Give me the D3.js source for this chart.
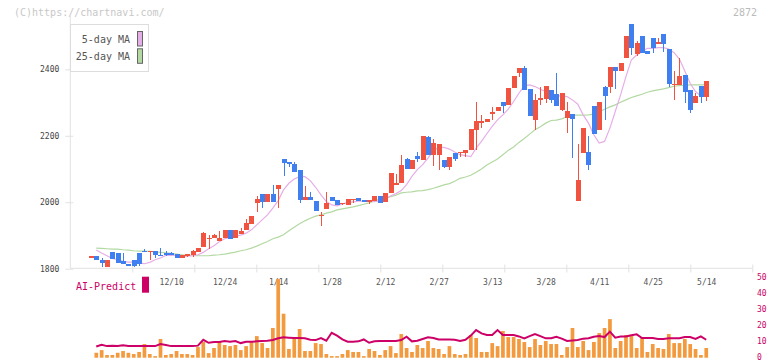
<!DOCTYPE html>
<html><head><meta charset="utf-8">
<script src="https://cdn.jsdelivr.net/npm/d3@7"></script>
<style>body{margin:0;background:#fff}svg{display:block}text{font-family:"DejaVu Sans Mono",monospace}</style>
</head><body><svg id="c" width="772" height="361"></svg>
<script>
const dates = ["11/19","11/20","11/21","11/22","11/25","11/26","11/27","11/28","11/29",
"12/2","12/3","12/4","12/5","12/6","12/9","12/10","12/11","12/12","12/13","12/16","12/17","12/18","12/19","12/20","12/23","12/24","12/25","12/26","12/27","12/30",
"1/6","1/7","1/8","1/9","1/10","1/14","1/15","1/16","1/17","1/20","1/21","1/22","1/23","1/24","1/27","1/28","1/29","1/30","1/31",
"2/3","2/4","2/5","2/6","2/7","2/10","2/12","2/13","2/14","2/17","2/18","2/19","2/20","2/21","2/25","2/26","2/27","2/28",
"3/3","3/4","3/5","3/6","3/7","3/10","3/11","3/12","3/13","3/14","3/17","3/18","3/19","3/21","3/24","3/25","3/26","3/27","3/28","3/31",
"4/1","4/2","4/3","4/4","4/7","4/8","4/9","4/10","4/11","4/14","4/15","4/16","4/17","4/18","4/21","4/22","4/23","4/24","4/25","4/28","4/30",
"5/1","5/2","5/7","5/8","5/9","5/12","5/13","5/14"];
const open = [1837,1839,1827,1806,1851,1848,1824,1815,1827,1848,
1854,1850,1854,1842,1846,1846,1843,1831,1838,1842,
1851,1866,1888,1893,1884,1893,1917,1893,1905,1917,
1935,1998,2025,2001,2025,2040,2130,2121,2115,2097,
2007,2016,2004,1962,1980,2016,2007,1995,1992,2007,
2013,2007,2001,2004,2019,2001,2028,2051,2057,2131,
2099,2140,2128,2197,2143,2143,2128,2107,2149,2149,
2149,2158,2218,2239,2242,2267,2275,2302,2293,2344,
2389,2404,2341,2248,2308,2311,2338,2326,2278,2254,
2266,2003,2149,2152,2290,2218,2347,2347,2407,2395,
2434,2536,2446,2500,2455,2494,2476,2506,2461,2353,
2353,2383,2338,2299,2350,2317];
const high = [1837,1839,1831,1827,1851,1848,1846,1815,1827,1848,
1860,1854,1854,1863,1854,1851,1843,1842,1844,1857,
1863,1911,1902,1904,1914,1917,1917,1917,1923,1950,
1959,2019,2025,2025,2052,2052,2130,2121,2121,2097,
2049,2031,2004,1971,2031,2016,2007,1999,2010,2010,
2013,2007,2007,2019,2019,2028,2088,2086,2143,2134,
2128,2152,2200,2200,2191,2176,2128,2137,2149,2152,
2158,2221,2302,2263,2251,2287,2287,2302,2344,2380,
2404,2410,2341,2326,2347,2350,2338,2389,2329,2302,
2266,2176,2224,2200,2290,2302,2350,2407,2407,2419,
2500,2536,2485,2500,2455,2494,2494,2506,2461,2395,
2434,2383,2338,2329,2350,2365];
const low = [1837,1827,1806,1806,1828,1818,1813,1809,1805,1809,
1849,1827,1831,1839,1839,1841,1831,1831,1835,1836,
1851,1866,1860,1893,1884,1893,1890,1893,1905,1917,
1935,1971,1983,2001,2001,1983,2079,2107,2091,1998,
2007,2007,1974,1929,1980,2004,1992,1992,1992,1998,
2004,2001,1995,2004,1998,2001,2028,2051,2057,2099,
2099,2122,2128,2143,2110,2098,2104,2098,2125,2137,
2137,2158,2158,2224,2242,2248,2275,2269,2293,2344,
2377,2338,2260,2218,2293,2299,2299,2290,2275,2209,
2134,2003,2149,2098,2206,2218,2248,2329,2341,2395,
2434,2443,2440,2449,2446,2449,2476,2452,2347,2308,
2353,2299,2269,2299,2299,2305];
const close = [1837,1827,1816,1827,1828,1818,1813,1809,1809,1815,
1849,1854,1840,1839,1841,1841,1831,1842,1844,1854,
1863,1908,1893,1902,1893,1917,1890,1917,1914,1938,
1959,2010,2001,2025,2001,2052,2118,2115,2091,2007,
2016,2007,1974,1962,1998,2004,1992,1998,2010,2010,
2004,2001,2007,2019,1998,2028,2088,2059,2113,2099,
2128,2131,2200,2143,2179,2176,2107,2137,2131,2152,
2158,2221,2245,2245,2251,2272,2287,2290,2344,2380,
2404,2338,2260,2308,2314,2350,2308,2290,2329,2275,
2251,2068,2224,2113,2206,2302,2320,2407,2395,2419,
2500,2464,2479,2449,2446,2464,2482,2476,2356,2356,
2380,2332,2278,2320,2317,2365];
const ma5 = [null,1856,1847,1839,1831,1827,1822,1820,1820,1817,
1815,1819,1827,1832,1840,1841,1840,1838,1838,1839,
1842,1849,1860,1869,1881,1890,1894,1898,1901,1907,
1917,1932,1947,1962,1982,2005,2037,2057,2070,2077,
2077,2065,2045,2022,2002,1992,1989,1995,1999,2001,
2003,2003,2003,2002,2004,2009,2019,2026,2035,2053,
2078,2098,2113,2133,2156,2165,2165,2160,2151,2143,
2140,2137,2163,2183,2206,2228,2248,2263,2280,2303,
2328,2350,2353,2348,2340,2333,2325,2321,2319,2318,
2308,2295,2263,2238,2203,2178,2183,2223,2273,2323,
2378,2428,2443,2453,2463,2463,2465,2465,2461,2450,
2431,2395,2358,2333,2320,2322];
const ma25 = [null,1862,1861,1860,1859,1859,1857,1856,1854,1853,
1853,1852,1851,1849,1848,1846,1844,1842,1840,1839,
1839,1839,1839,1841,1842,1844,1847,1850,1854,1857,
1862,1868,1875,1882,1890,1895,1902,1914,1925,1935,
1944,1952,1958,1962,1967,1971,1977,1980,1983,1986,
1990,1994,1998,2004,2009,2014,2017,2021,2028,2030,
2031,2034,2035,2038,2042,2047,2052,2056,2063,2072,
2076,2081,2090,2100,2112,2121,2130,2143,2156,2166,
2180,2192,2205,2218,2227,2238,2246,2247,2251,2258,
2262,2262,2262,2263,2265,2272,2280,2287,2293,2301,
2308,2315,2320,2325,2331,2335,2338,2341,2345,2349,
2351,2352,2353,2353,2353,2354];
const volume = [null,3.1,4.8,1.7,1.7,3.1,4.2,3.1,2.3,3.6,
8.6,2.3,1.0,11.8,1.7,2.3,4.2,2.3,2.3,1.7,
6.7,9.9,2.9,6.1,10.5,8.0,7.3,8.0,4.8,7.3,
9.9,13.6,9.2,6.1,18.7,49.5,27.7,5.5,11.8,18.1,
4.2,4.2,9.2,8.6,2.3,1.0,1.0,2.3,4.8,3.6,
3.6,1.0,5.5,4.2,1.7,4.8,7.3,2.9,14.9,6.1,
3.6,8.0,6.1,10.5,6.1,5.5,2.3,7.3,2.3,1.7,
2.3,14.3,12.4,3.6,3.6,9.2,7.3,16.8,13.0,13.0,
11.8,9.9,6.7,11.8,8.0,10.5,8.6,8.6,1.7,6.7,
18.7,6.7,10.5,4.8,9.9,15.5,18.7,24.3,6.1,10.5,
14.3,14.3,6.1,13.0,3.6,8.6,6.1,5.5,14.9,9.2,
9.2,11.8,8.6,5.5,1.7,6.1];
const aiPredict = [null,7.1,8.2,7.3,7.6,7.3,7.8,7.3,7.3,7.3,
7.3,7.3,7.3,8.6,8.0,7.3,7.3,7.3,7.3,7.3,
7.6,11.3,9.4,9.9,9.9,10.5,10.1,10.5,9.2,10.1,
10.1,10.3,10.5,10.7,11.1,12.2,12.8,12.6,12.4,12.4,
12.2,11.3,11.1,12.4,10.7,15.7,13.9,11.5,10.1,10.1,
10.3,11.5,9.4,10.3,10.5,10.5,10.5,10.5,11.1,13.2,
10.3,10.7,11.8,12.8,12.4,11.5,11.5,11.5,11.3,10.5,
11.3,13.9,17.4,15.3,14.3,14.3,17.4,14.3,14.3,14.3,
13.4,12.2,13.6,14.9,13.6,12.2,12.2,13.2,12.0,10.5,
10.9,11.1,12.0,12.2,13.2,13.6,13.0,16.4,12.6,13.4,
13.4,14.1,14.7,12.4,12.4,12.4,11.8,11.8,12.2,12.2,
12.2,13.0,13.0,11.8,13.4,11.3];
const xTickLabels = ["12/10","12/24","1/14","1/28","2/12","2/27","3/13","3/28","4/11","4/25","5/14"];
const priceTicks = [1800,2000,2200,2400];
const volTicks = [0,10,20,30,40,50];
const legendNames = ["5-day MA","25-day MA"];

const C = {red:"#f0533f", blue:"#3f7fef", ma5:"#e6aee6", ma25:"#b2d9a2", vol:"#f39a3e", ai:"#cc0066", axis:"#e2e2e2", text:"#555"};
const svg = d3.select("#c");
svg.append("rect").attr("width",772).attr("height",361).attr("fill","#fff");

const x = d3.scalePoint().domain(dates).range([90.9, 706.2]);
const y = d3.scaleLinear().domain([1800,2400]).range([268.7,69.3]);
const yv = d3.scaleLinear().domain([0,50]).range([357.7,278.3]);
const gx = d3.scaleLinear().domain([0,11]).range([70.3,752.3]);

// copyright & code
svg.append("text").attr("x",14).attr("y",16).attr("font-size",10).attr("fill","#c8c8c8").text("(C)https://chartnavi.com/");
svg.append("text").attr("x",757).attr("y",16).attr("font-size",10).attr("fill","#bbb").attr("text-anchor","end").text("2872");

// axis lines
svg.append("line").attr("x1",70.3).attr("x2",70.3).attr("y1",15).attr("y2",268.3).attr("stroke",C.axis);
svg.append("line").attr("x1",70.3).attr("x2",752.3).attr("y1",268.3).attr("y2",268.3).attr("stroke",C.axis);

// y axis
const ya = svg.append("g").attr("transform","translate(73.3,0)")
  .call(d3.axisLeft(y).tickValues(priceTicks).tickSize(8).tickPadding(6).tickFormat(d3.format("d")));
ya.select(".domain").remove();
ya.selectAll("line").attr("stroke",C.axis);
ya.selectAll("text").attr("font-size",8).attr("fill","#444").attr("font-family","DejaVu Sans Mono");

// x grid ticks
const gxa = svg.append("g").attr("transform","translate(0,264.5)")
  .call(d3.axisBottom(gx).tickValues(d3.range(1,12)).tickSize(8).tickFormat(""));
gxa.select(".domain").remove();
gxa.selectAll("line").attr("stroke",C.axis);

// x labels
const xa = svg.append("g").attr("transform","translate(0,268.3)")
  .call(d3.axisBottom(x).tickValues(xTickLabels).tickSize(0).tickPadding(11.5));
xa.select(".domain").remove();
xa.selectAll("text").attr("font-size",8).attr("fill",C.text).attr("font-family","DejaVu Sans Mono");

// MA lines
const idx = d3.range(dates.length);
const lineOf = arr => d3.line().defined(i => arr[i] != null).x(i => x(dates[i])).y(i => y(arr[i]));
svg.append("path").datum(idx).attr("d",lineOf(ma25)).attr("fill","none").attr("stroke",C.ma25).attr("stroke-width",1.2);
svg.append("path").datum(idx).attr("d",lineOf(ma5)).attr("fill","none").attr("stroke",C.ma5).attr("stroke-width",1.2);

// candles
const cg = svg.append("g");
const col = i => close[i] >= open[i] ? C.red : C.blue;
cg.selectAll("line.w").data(idx).join("line").attr("class","w")
  .attr("x1",i=>Math.round(x(dates[i]))+0.5).attr("x2",i=>Math.round(x(dates[i]))+0.5)
  .attr("y1",i=>y(high[i])).attr("y2",i=>y(low[i])).attr("stroke",col).attr("stroke-width",1).attr("shape-rendering","crispEdges");
cg.selectAll("rect.b").data(idx).join("rect").attr("class","b")
  .attr("x",i=>Math.round(x(dates[i]))-2).attr("width",5)
  .attr("y",i=>y(Math.max(open[i],close[i])))
  .attr("height",i=>Math.max(1.2, Math.abs(y(open[i])-y(close[i]))))
  .attr("fill",col).attr("shape-rendering","crispEdges");

// legend
const lg = svg.append("g");
lg.append("rect").attr("x",70.5).attr("y",24.5).attr("width",78).attr("height",47).attr("fill","#fff").attr("stroke","#ddd");
const lgColors = [C.ma5, C.ma25];
legendNames.forEach((n,k) => {
  lg.append("text").attr("x",130).attr("y",43+k*16.5).attr("font-size",10).attr("fill",C.text).attr("text-anchor","end").text(n);
  lg.append("rect").attr("x",137.5).attr("y",31.5+k*17.3).attr("width",5).attr("height",14.5).attr("fill",lgColors[k]).attr("stroke","#666");
});

// volume
svg.append("g").selectAll("rect").data(idx.filter(i=>volume[i]!=null)).join("rect")
  .attr("x",i=>x(dates[i])-1.8).attr("width",3.7)
  .attr("y",i=>yv(volume[i])).attr("height",i=>yv(0)-yv(volume[i]))
  .attr("fill",C.vol);
svg.append("path").datum(idx).attr("d", d3.line().defined(i=>aiPredict[i]!=null).x(i=>x(dates[i])).y(i=>yv(aiPredict[i])))
  .attr("fill","none").attr("stroke",C.ai).attr("stroke-width",2);

// volume axis
const va = svg.append("g").attr("transform","translate(754,-1)")
  .call(d3.axisRight(yv).tickValues(volTicks).tickSize(0).tickPadding(3));
va.select(".domain").remove();
va.selectAll("text").attr("font-size",8).attr("fill",C.ai).attr("font-family","DejaVu Sans Mono");

// AI-Predict legend
svg.append("text").attr("x",76).attr("y",290).attr("font-size",10).attr("fill",C.ai).text("AI-Predict");
svg.append("rect").attr("x",142).attr("y",276.7).attr("width",7).attr("height",16).attr("fill",C.ai);
</script></body></html>
